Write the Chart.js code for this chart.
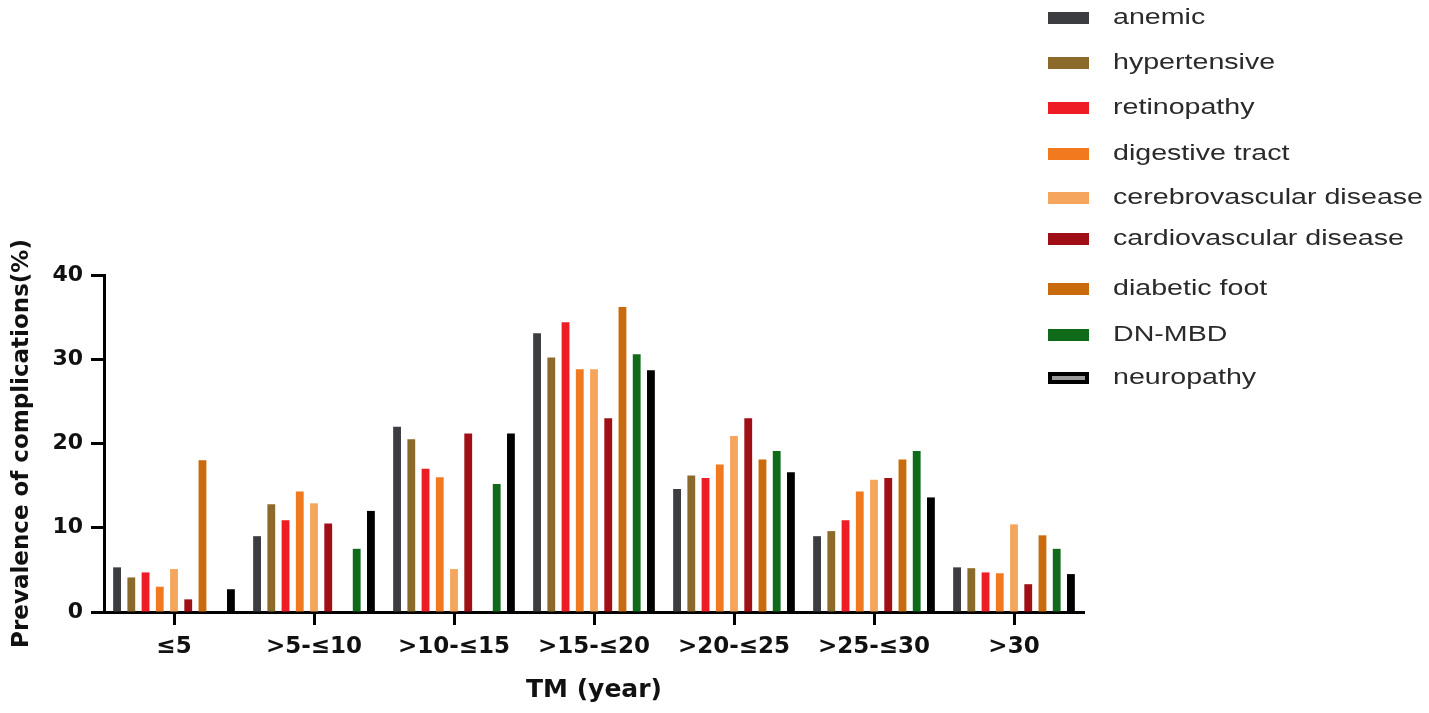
<!DOCTYPE html>
<html>
<head>
<meta charset="utf-8">
<script src="https://cdn.jsdelivr.net/npm/chart.js@4.4.1/dist/chart.umd.min.js"></script>
<style>
  body { margin: 0; background: #fff; }
  #wrap { width: 1429px; height: 713px; }
</style>
</head>
<body>
<div id="wrap"><canvas id="chart" width="1429" height="713"></canvas></div>
<script>
// categories (TM, years)
var categories = ['≤5', '>5-≤10', '>10-≤15', '>15-≤20', '>20-≤25', '>25-≤30', '>30'];
var yTicks = [0, 10, 20, 30, 40];

// prevalence (%) per complication
var anemic       = [5.3, 9.0, 22.0, 33.1, 14.6, 9.0, 5.3];
var hypertensive = [4.1, 12.8, 20.5, 30.2, 16.2, 9.6, 5.2];
var retinopathy  = [4.7, 10.9, 17.0, 34.4, 15.9, 10.9, 4.7];
var digestive    = [3.0, 14.3, 16.0, 28.8, 17.5, 14.3, 4.6];
var cerebro      = [5.1, 12.9, 5.1, 28.8, 20.9, 15.7, 10.4];
var cardio       = [1.5, 10.5, 21.2, 23.0, 23.0, 15.9, 3.3];
var diabeticFoot = [18.0, 0, 0, 36.2, 18.1, 18.1, 9.1];
var dnMbd        = [0, 7.5, 15.2, 30.6, 19.1, 19.1, 7.5];
var neuropathy   = [2.7, 12.0, 21.2, 28.7, 16.6, 13.6, 4.5];

var seriesNames = ['anemic', 'hypertensive', 'retinopathy', 'digestive tract',
  'cerebrovascular disease', 'cardiovascular disease', 'diabetic foot', 'DN-MBD', 'neuropathy'];
var seriesData = [anemic, hypertensive, retinopathy, digestive, cerebro, cardio, diabeticFoot, dnMbd, neuropathy];
var seriesColors = ['#3b3d40', '#8b6a2c', '#ee1c25', '#f27a1e', '#f5a65c', '#a10f16', '#c96a0c', '#0f6b1a', '#000000'];

// legend row centres (px from top)
var legendY = [18, 63, 108, 154, 198, 239, 289, 335, 378];

var datasets = [];
for (var i = 0; i < seriesNames.length; i++) {
  datasets.push({
    label: seriesNames[i],
    data: seriesData[i],
    backgroundColor: seriesColors[i],
    borderWidth: 0,
    categoryPercentage: 0.915,
    barPercentage: 0.55
  });
}

var sideLegend = {
  id: 'sideLegend',
  afterDraw: function (chart) {
    var ctx = chart.ctx;
    ctx.save();
    for (var i = 0; i < chart.data.datasets.length; i++) {
      var ds = chart.data.datasets[i];
      var y = legendY[i];
      if (i == chart.data.datasets.length - 1) {
        ctx.fillStyle = '#000';
        ctx.fillRect(1048, y - 6, 41, 12);
        ctx.fillStyle = '#9a9a9a';
        ctx.fillRect(1052, y - 2, 33, 4);
      } else {
        ctx.fillStyle = ds.backgroundColor;
        ctx.fillRect(1048, y - 6, 41, 12);
      }
      ctx.save();
      ctx.translate(1113, y);
      ctx.scale(1.3, 1);
      ctx.font = '22px "Liberation Sans", Arial, sans-serif';
      ctx.fillStyle = '#2a2a2a';
      ctx.textBaseline = 'middle';
      ctx.textAlign = 'left';
      ctx.fillText(ds.label, 0, 0);
      ctx.restore();
    }
    ctx.restore();
  }
};

Chart.defaults.font.family = '"DejaVu Sans", sans-serif';
Chart.defaults.color = '#000';

var ctx = document.getElementById('chart').getContext('2d');
var myChart = new Chart(ctx, {
  type: 'bar',
  data: {
    labels: categories,
    datasets: datasets
  },
  options: {
    responsive: false,
    animation: false,
    layout: {
      padding: { left: 0, right: 345, top: 275, bottom: 0 }
    },
    plugins: {
      legend: { display: false },
      tooltip: { enabled: false }
    },
    scales: {
      x: {
        offset: true,
        grid: {
          offset: false,
          drawOnChartArea: false,
          drawTicks: true,
          tickLength: 13,
          tickWidth: 3,
          tickColor: '#000'
        },
        border: { display: true, width: 3, color: '#000' },
        ticks: {
          font: { size: 23, weight: 'bold' },
          color: '#111',
          padding: 8,
          maxRotation: 0
        },
        title: {
          display: true,
          text: 'TM (year)',
          font: { size: 25, weight: 'bold' },
          color: '#111',
          padding: { top: 8, bottom: 8 }
        },
        afterFit: function (scale) { scale.height = 101; }
      },
      y: {
        min: 0,
        max: 40,
        afterBuildTicks: function (scale) {
          scale.ticks = yTicks.map(function (v) { return { value: v }; });
        },
        grid: {
          drawOnChartArea: false,
          drawTicks: true,
          tickLength: 13,
          tickWidth: 3,
          tickColor: '#000'
        },
        border: { display: true, width: 3, color: '#000' },
        ticks: {
          font: { size: 22, weight: 'bold' },
          color: '#111',
          padding: 8
        },
        title: {
          display: true,
          text: 'Prevalence of complications(%)',
          font: { size: 23, weight: 'bold' },
          color: '#111',
          padding: { top: 8, bottom: 10 }
        },
        afterFit: function (scale) { scale.width = 104; }
      }
    }
  },
  plugins: [sideLegend]
});
</script>
</body>
</html>
